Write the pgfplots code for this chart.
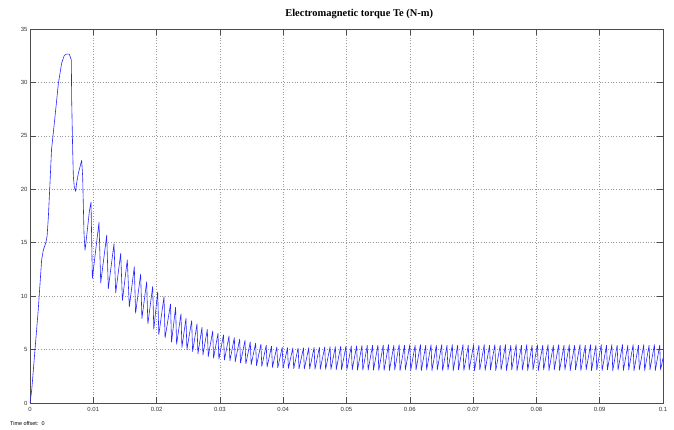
\documentclass[border=0pt]{standalone}
\usepackage{pgfplots}
\pgfplotsset{compat=1.18}
\usepackage{pgfplotstable}
\usepackage{fontspec}
\setmainfont{Liberation Sans}
\newfontfamily\titlefont{Liberation Serif}
\pgfplotstableread{
t v
0 0
0.00027 1.2
0.00079 5.0
0.0013 8.7
0.00184 13.4
0.0021 14.3
0.0025 15.0
0.0027 15.6
0.0029 17.4
0.00316 20.6
0.0034 23.7
0.00395 26.8
0.00448 29.9
0.005 31.8
0.0054 32.5
0.00569 32.65
0.0062 32.65
0.00653 32.1
0.00658 28.5
0.00674 23.7
0.00685 21.2
0.0070 20.2
0.00721 19.8
0.00737 20.6
0.00764 21.5
0.00816 22.7
0.00832 21.2
0.00853 15.9
0.00869 14.3
0.0088 14.8
0.00906 16.2
0.00937 17.9
0.00964 18.8
0.00985 11.66
0.0109 16.9
0.01117 11.25
0.01212 15.7
0.01237 10.7
0.01327 14.9
0.01354 10.3
0.01433 14.0
0.0146 9.6
0.01537 13.4
0.01569 9.0
0.01648 12.75
0.01668 8.4
0.01748 12.07
0.01768 7.9
0.01843 11.35
0.01862 7.4
0.01938 10.9
0.01956 6.9
0.02017 10.4
0.02035 6.4
0.02117 9.95
0.02134 6.1
0.0222 9.26
0.02236 5.7
0.0230 8.95
0.02316 5.5
0.02385 8.33
0.0240 5.2
0.02464 7.92
0.02479 5.0
0.02554 7.7
0.02569 4.8
0.02638 7.39
0.02653 4.6
0.02717 7.08
0.02732 4.5
0.02801 6.89
0.02816 4.35
0.02886 6.73
0.0290 4.2
0.0297 6.52
0.02984 4.1
0.03057 6.38
0.03071 4.02
0.03144 6.27
0.03158 3.95
0.03228 6.12
0.03242 3.85
0.03312 5.98
0.03326 3.75
0.03396 5.85
0.03410 3.66
0.03480 5.72
0.03494 3.58
0.03564 5.60
0.03578 3.50
0.03648 5.50
0.03662 3.44
0.03732 5.40
0.03746 3.38
0.03816 5.32
0.03830 3.33
0.03900 5.25
0.03914 3.29
0.03984 5.20
0.03998 3.26
0.04068 5.17
0.04082 3.24
0.04152 5.15
0.04166 3.22
0.04236 5.15
0.04250 3.20
0.04320 5.16
0.04334 3.19
0.04404 5.18
0.04418 3.18
0.04488 5.20
0.04502 3.17
0.04572 5.22
0.04586 3.16
0.04656 5.24
0.04670 3.15
0.04740 5.26
0.04754 3.14
0.04824 5.28
0.04838 3.13
0.04908 5.30
0.04922 3.12
0.04992 5.32
0.05006 3.11
0.05076 5.34
0.05090 3.10
0.05160 5.35
0.05174 3.09
0.05244 5.37
0.05258 3.08
0.05328 5.38
0.05342 3.08
0.05412 5.40
0.05426 3.07
0.05496 5.41
0.05510 3.07
0.05580 5.42
0.05594 3.06
0.05664 5.46
0.05678 3.04
0.05748 5.40
0.05762 3.10
0.05832 5.46
0.05846 3.04
0.05916 5.40
0.05930 3.10
0.06000 5.46
0.06014 3.04
0.06084 5.40
0.06098 3.10
0.06168 5.46
0.06182 3.04
0.06252 5.40
0.06266 3.10
0.06336 5.46
0.06350 3.04
0.06420 5.40
0.06434 3.10
0.06504 5.46
0.06518 3.04
0.06588 5.40
0.06602 3.10
0.06672 5.46
0.06686 3.04
0.06756 5.40
0.06770 3.10
0.06840 5.46
0.06854 3.04
0.06924 5.40
0.06938 3.10
0.07008 5.46
0.07022 3.04
0.07092 5.40
0.07106 3.10
0.07176 5.46
0.07190 3.04
0.07260 5.40
0.07274 3.10
0.07344 5.46
0.07358 3.04
0.07428 5.40
0.07442 3.10
0.07512 5.46
0.07526 3.04
0.07596 5.40
0.07610 3.10
0.07680 5.46
0.07694 3.04
0.07764 5.40
0.07778 3.10
0.07848 5.46
0.07862 3.04
0.07932 5.40
0.07946 3.10
0.08016 5.46
0.08030 3.04
0.08100 5.40
0.08114 3.10
0.08184 5.46
0.08198 3.04
0.08268 5.40
0.08282 3.10
0.08352 5.46
0.08366 3.04
0.08436 5.40
0.08450 3.10
0.08520 5.46
0.08534 3.04
0.08604 5.40
0.08618 3.10
0.08688 5.46
0.08702 3.04
0.08772 5.40
0.08786 3.10
0.08856 5.46
0.08870 3.04
0.08940 5.40
0.08954 3.10
0.09024 5.46
0.09038 3.04
0.09108 5.40
0.09122 3.10
0.09192 5.46
0.09206 3.04
0.09276 5.40
0.09290 3.10
0.09360 5.46
0.09374 3.04
0.09444 5.40
0.09458 3.10
0.09528 5.46
0.09542 3.04
0.09612 5.40
0.09626 3.10
0.09696 5.46
0.09710 3.04
0.09780 5.40
0.09794 3.10
0.09864 5.46
0.09878 3.04
0.09948 5.40
0.09962 3.10
0.1 4.2
}\torque
\begin{document}
\begin{tikzpicture}
\path[use as bounding box] (-30bp,-27bp) rectangle (644bp,403bp);
\begin{axis}[
  scale only axis,
  width=633bp, height=374bp,
  xmin=0, xmax=0.1, ymin=0, ymax=35,
  xtick={0,0.01,0.02,0.03,0.04,0.05,0.06,0.07,0.08,0.09,0.1},
  xticklabels={0,0.01,0.02,0.03,0.04,0.05,0.06,0.07,0.08,0.09,0.1},
  ytick={0,5,10,15,20,25,30,35},
  scaled x ticks=false,
  tick align=inside,
  major tick length=6bp,
  tick style={gray!60!black, line width=0.6bp},
  axis line style={gray!60!black, line width=0.8bp},
  grid=major,
  major grid style={gray!80, line width=0.5bp, dash pattern=on 0.7bp off 2bp},
  tick label style={font=\fontsize{6}{7}\selectfont, text=black!80},
  xticklabel style={yshift=-1bp},
  yticklabel style={xshift=1bp},
  /pgf/number format/assume math mode=true,
  title={Electromagnetic torque Te (N-m)},
  title style={font=\titlefont\bfseries\fontsize{10.5}{12}\selectfont, at={(axis description cs:0.52,1)}, anchor=base, yshift=7bp},
  clip=true,
]
\addplot[blue!85!white, line width=0.6bp, line join=round] table[x=t, y=v] {\torque};
\end{axis}
\node[anchor=base west, font=\fontsize{5.5}{6}\selectfont, inner sep=0pt] at (-20bp,-22bp) {Time offset:\ \ 0};
\end{tikzpicture}
\end{document}
